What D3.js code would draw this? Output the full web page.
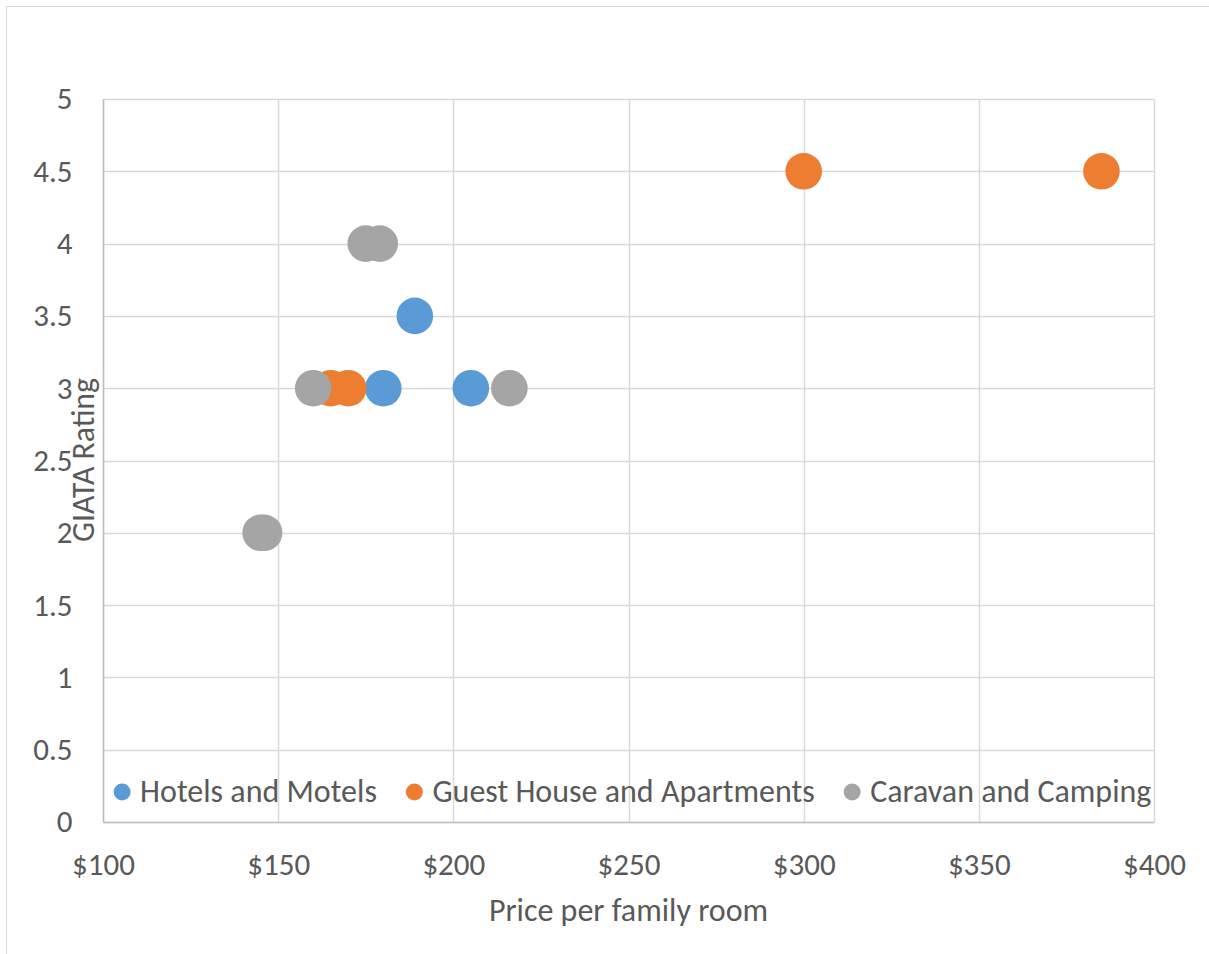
<!DOCTYPE html>
<html>
<head>
<meta charset="utf-8">
<script src="https://cdn.jsdelivr.net/npm/d3@7"></script>
<style>
  html, body { margin: 0; padding: 0; background: #fff; }
  svg { display: block; }
  text { font-family: Carlito, Calibri, "Open Sans", Lato, sans-serif; fill: #595959; }
</style>
</head>
<body>
<svg id="chart" width="1209" height="954"></svg>
<script>
// ---- Data ----
const seriesNames = ["Hotels and Motels", "Guest House and Apartments", "Caravan and Camping"];
const seriesColors = ["#5B9BD5", "#ED7D31", "#A5A5A5"];
const hotelsPrice = [189, 180, 205];
const hotelsRating = [3.5, 3, 3];
const guestPrice = [165, 170, 300, 385];
const guestRating = [3, 3, 4.5, 4.5];
const caravanPrice = [175, 179, 160, 216, 145, 146];
const caravanRating = [4, 4, 3, 3, 2, 2];
const xTicks = [100, 150, 200, 250, 300, 350, 400];
const yTicks = [0, 0.5, 1, 1.5, 2, 2.5, 3, 3.5, 4, 4.5, 5];
const xTitle = "Price per family room";
const yTitle = "GIATA Rating";

const series = [
  { name: seriesNames[0], color: seriesColors[0], pts: hotelsPrice.map((p, i) => ({ x: p, y: hotelsRating[i] })) },
  { name: seriesNames[1], color: seriesColors[1], pts: guestPrice.map((p, i) => ({ x: p, y: guestRating[i] })) },
  { name: seriesNames[2], color: seriesColors[2], pts: caravanPrice.map((p, i) => ({ x: p, y: caravanRating[i] })) }
];

// ---- Layout ----
const W = 1209, H = 954;
const plot = { left: 103, top: 99, right: 1154, bottom: 822 };
const tickFont = 31;
const labelFont = 32;
const FF = "Carlito, Calibri, 'Open Sans', Lato, sans-serif";

const svg = d3.select("#chart");

// chart area border (top & left visible)
svg.append("rect")
  .attr("x", 6.5).attr("y", 6.5)
  .attr("width", W + 10).attr("height", H + 10)
  .attr("fill", "#fff").attr("stroke", "#d9d9d9").attr("stroke-width", 1);

const x = d3.scaleLinear().domain([100, 400]).range([plot.left, plot.right]);
const y = d3.scaleLinear().domain([0, 5]).range([plot.bottom, plot.top]);

// gridlines
const grid = svg.append("g");
grid.selectAll("line.v").data(xTicks).join("line")
  .attr("x1", d => Math.round(x(d)) + 0.5).attr("x2", d => Math.round(x(d)) + 0.5)
  .attr("y1", plot.top).attr("y2", plot.bottom)
  .attr("stroke", "#d9d9d9").attr("stroke-width", 1.5);
grid.selectAll("line.h").data(yTicks).join("line")
  .attr("y1", d => Math.round(y(d)) + 0.5).attr("y2", d => Math.round(y(d)) + 0.5)
  .attr("x1", plot.left).attr("x2", plot.right)
  .attr("stroke", "#d9d9d9").attr("stroke-width", 1.5);

// axes (D3 axes, styled)
const xAxis = d3.axisBottom(x).tickValues(xTicks).tickSize(0).tickPadding(31)
  .tickFormat(d => "$" + d);
const gx = svg.append("g").attr("transform", `translate(0,${plot.bottom})`).call(xAxis);
gx.select(".domain").attr("stroke", "#bfbfbf").attr("stroke-width", 1.5);
gx.selectAll("text").attr("font-size", tickFont).attr("fill", "#595959")
  .style("font-family", FF);

const yAxis = d3.axisLeft(y).tickValues(yTicks).tickSize(0).tickPadding(30.5)
  .tickFormat(d => d);
const gy = svg.append("g").attr("transform", `translate(${plot.left},0)`).call(yAxis);
gy.select(".domain").attr("stroke", "#bfbfbf").attr("stroke-width", 1.5);
gy.selectAll("text").attr("font-size", tickFont).attr("fill", "#595959")
  .style("font-family", FF);

// axis titles
svg.append("text")
  .attr("x", (plot.left + plot.right) / 2).attr("y", 921)
  .attr("text-anchor", "middle").attr("font-size", labelFont)
  .text(xTitle);
svg.append("text")
  .attr("transform", `translate(94,460) rotate(-90)`)
  .attr("text-anchor", "middle").attr("font-size", labelFont)
  .attr("textLength", 164).attr("lengthAdjust", "spacingAndGlyphs")
  .text(yTitle);

// points
const R = 18.3;
series.forEach(s => {
  svg.append("g").selectAll("circle").data(s.pts).join("circle")
    .attr("cx", d => x(d.x)).attr("cy", d => y(d.y)).attr("r", R)
    .attr("fill", s.color);
});

// legend
const legY = 792;
const mr = 8.5;
const lg = svg.append("g");
const items = lg.selectAll("g").data(series).join("g");
items.append("circle").attr("r", mr).attr("cy", legY).attr("fill", d => d.color);
items.append("text").attr("y", legY).attr("dy", "0.32em").attr("font-size", labelFont)
  .text(d => d.name);
const gap = 29, markerToText = 18;
let widths = [];
items.each(function() { widths.push(d3.select(this).select("text").node().getComputedTextLength()); });
const total = widths.reduce((a, w) => a + mr + markerToText + w, 0) + gap * (widths.length - 1);
let cx = (plot.left + plot.right) / 2 + 4 - total / 2;
items.each(function(d, i) {
  const g = d3.select(this);
  g.select("circle").attr("cx", cx + mr);
  g.select("text").attr("x", cx + mr + markerToText);
  cx += mr + markerToText + widths[i] + gap;
});
</script>
</body>
</html>
